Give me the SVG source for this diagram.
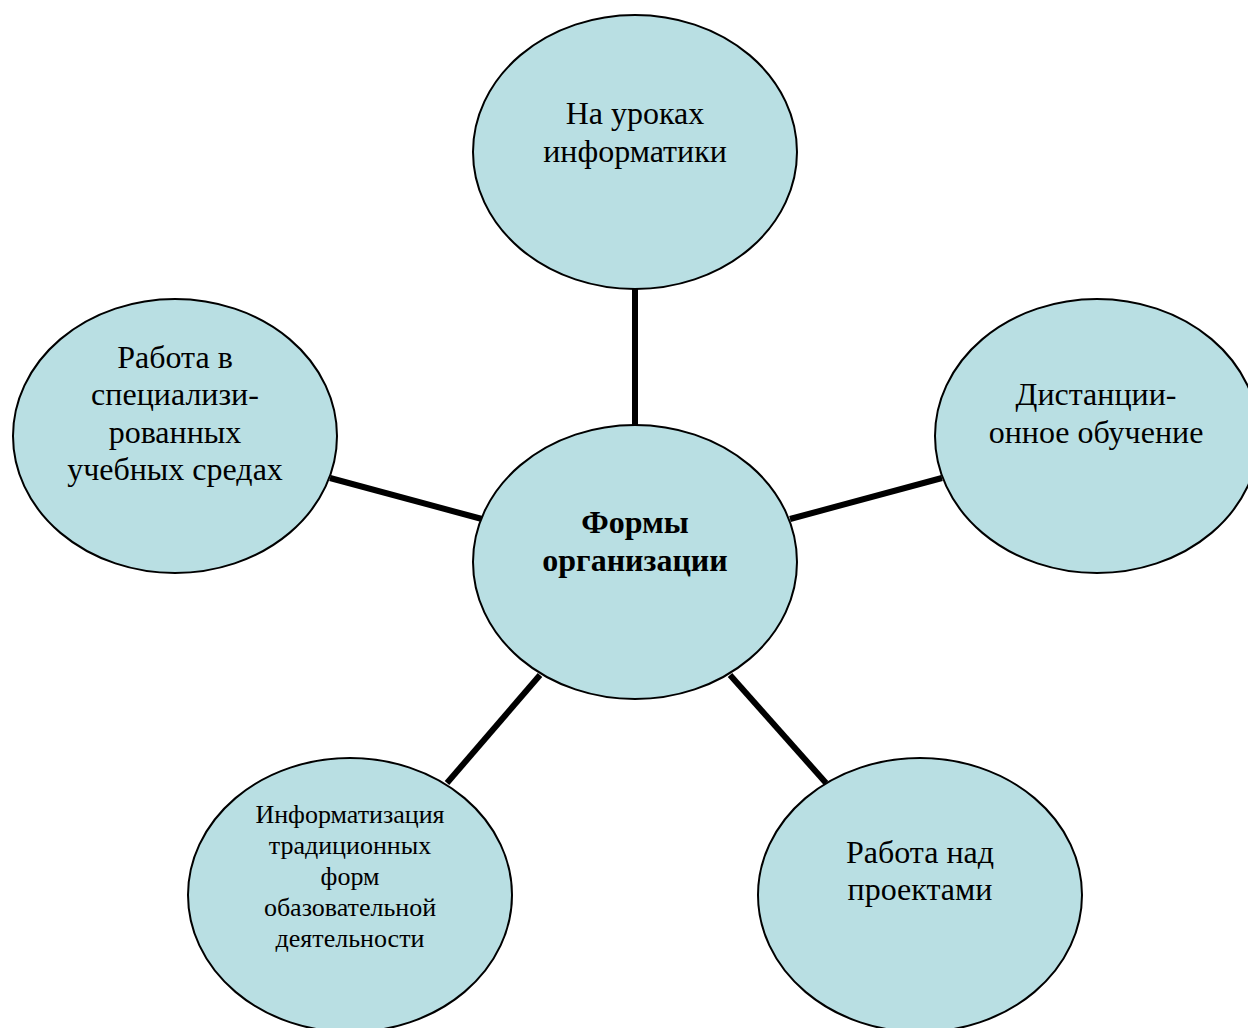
<svg xmlns="http://www.w3.org/2000/svg" width="1248" height="1028" viewBox="0 0 1248 1028">
<style>
.n{fill:#b9dfe3;stroke:#000;stroke-width:2}
.t{font-family:"Liberation Serif","Times New Roman",serif;font-size:32px;fill:#000;text-anchor:middle}
.s{font-size:26px}
.b{font-weight:bold}
.c{stroke:#000;stroke-width:6;fill:none}
</style>
<rect width="1248" height="1028" fill="#fff"/>
<g id="connectors">
<line class="c" x1="635" y1="289" x2="635" y2="426"/>
<line class="c" x1="330" y1="478" x2="482" y2="519"/>
<line class="c" x1="790" y1="519" x2="942" y2="478"/>
<line class="c" x1="540" y1="675" x2="447" y2="783"/>
<line class="c" x1="730" y1="675" x2="826" y2="783"/>
</g>
<g id="top">
<ellipse class="n" cx="635" cy="152" rx="162" ry="137"/>
<text class="t" x="635" y="124">На уроках</text>
<text class="t" x="635" y="162">информатики</text>
</g>
<g id="left">
<ellipse class="n" cx="175" cy="436" rx="162" ry="137"/>
<text class="t" x="175" y="368">Работа в</text>
<text class="t" x="175" y="405">специализи-</text>
<text class="t" x="175" y="443">рованных</text>
<text class="t" x="175" y="480">учебных средах</text>
</g>
<g id="right">
<ellipse class="n" cx="1097" cy="436" rx="162" ry="137"/>
<text class="t" x="1096" y="405">Дистанции-</text>
<text class="t" x="1096" y="443">онное обучение</text>
</g>
<g id="center">
<ellipse class="n" cx="635" cy="562" rx="162" ry="137"/>
<text class="t b" x="635" y="533">Формы</text>
<text class="t b" x="635" y="571">организации</text>
</g>
<g id="bottom-left">
<ellipse class="n" cx="350" cy="895" rx="162" ry="137"/>
<text class="t s" x="350" y="823">Информатизация</text>
<text class="t s" x="350" y="854">традиционных</text>
<text class="t s" x="350" y="885">форм</text>
<text class="t s" x="350" y="916">обазовательной</text>
<text class="t s" x="350" y="947">деятельности</text>
</g>
<g id="bottom-right">
<ellipse class="n" cx="920" cy="895" rx="162" ry="137"/>
<text class="t" x="920" y="863">Работа над</text>
<text class="t" x="920" y="900">проектами</text>
</g>
</svg>
